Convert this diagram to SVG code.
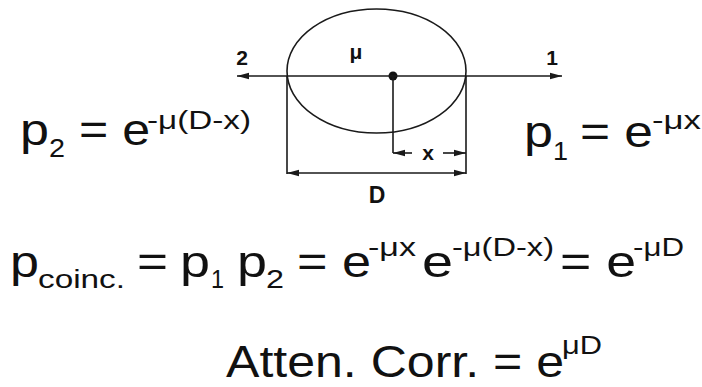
<svg xmlns="http://www.w3.org/2000/svg" width="702" height="387" viewBox="0 0 702 387">
<style>
.m{font-family:"Liberation Sans",Arial,sans-serif;font-size:44px;fill:#111}
.s{font-family:"Liberation Sans",Arial,sans-serif;font-size:25px;fill:#111}
.l{font-family:"Liberation Sans",Arial,sans-serif;font-size:21px;font-weight:bold;fill:#111;text-anchor:middle}
.ln{stroke:#1a1a1a;stroke-width:1.6;fill:none}
</style>
<defs>
<marker id="ah" viewBox="0 0 12 8" refX="12" refY="4" markerWidth="12" markerHeight="8" markerUnits="userSpaceOnUse" orient="auto-start-reverse">
<path d="M0,0.8 L12,4 L0,7.2 Z" fill="#1a1a1a"/>
</marker>
</defs>
<rect width="702" height="387" fill="#fff"/>
<g id="object">
<ellipse class="ln" cx="376.5" cy="71" rx="89.5" ry="62"/>
<circle cx="393" cy="76" r="4.5" fill="#111"/>
</g>
<g id="connectors">
<line class="ln" x1="237" y1="76" x2="562" y2="76" marker-start="url(#ah)" marker-end="url(#ah)"/>
<line class="ln" x1="287" y1="76" x2="287" y2="174"/>
<line class="ln" x1="466" y1="76" x2="466" y2="174"/>
<line class="ln" x1="393" y1="76" x2="393" y2="153"/>
<line class="ln" x1="412" y1="153" x2="393" y2="153" marker-end="url(#ah)"/>
<line class="ln" x1="443" y1="153" x2="466" y2="153" marker-end="url(#ah)"/>
<line class="ln" x1="287" y1="173" x2="466" y2="173" marker-start="url(#ah)" marker-end="url(#ah)"/>
</g>
<g id="labels">
<text class="l" x="242" y="65">2</text>
<text class="l" x="552" y="65">1</text>
<text class="l" x="356" y="59">μ</text>
<text class="l" x="428" y="160">x</text>
<text class="l" x="377" y="203" style="font-size:23px">D</text>
</g>
<g id="eq-p2">
<text class="m" x="20" y="145" textLength="29" lengthAdjust="spacingAndGlyphs">p</text>
<text class="s" x="49" y="157" textLength="16" lengthAdjust="spacingAndGlyphs">2</text>
<text class="m" x="79" y="145" textLength="71" lengthAdjust="spacingAndGlyphs">= e</text>
<text class="s" x="147" y="129" textLength="104" lengthAdjust="spacingAndGlyphs">-μ(D-x)</text>
</g>
<g id="eq-p1">
<text class="m" x="524" y="147" textLength="29" lengthAdjust="spacingAndGlyphs">p</text>
<text class="s" x="553" y="160" textLength="15" lengthAdjust="spacingAndGlyphs">1</text>
<text class="m" x="580" y="147" textLength="73" lengthAdjust="spacingAndGlyphs">= e</text>
<text class="s" x="652" y="129" textLength="49" lengthAdjust="spacingAndGlyphs">-μx</text>
</g>
<g id="eq-coinc">
<text class="m" x="10" y="277" textLength="29" lengthAdjust="spacingAndGlyphs">p</text>
<text class="s" x="38" y="288" textLength="87" lengthAdjust="spacingAndGlyphs">coinc.</text>
<text class="m" x="137" y="277" textLength="31" lengthAdjust="spacingAndGlyphs">=</text>
<text class="m" x="180" y="277" textLength="30" lengthAdjust="spacingAndGlyphs">p</text>
<text class="s" x="211" y="288" textLength="13" lengthAdjust="spacingAndGlyphs">1</text>
<text class="m" x="237" y="277" textLength="30" lengthAdjust="spacingAndGlyphs">p</text>
<text class="s" x="266" y="288" textLength="18" lengthAdjust="spacingAndGlyphs">2</text>
<text class="m" x="297" y="277" textLength="74" lengthAdjust="spacingAndGlyphs">= e</text>
<text class="s" x="368" y="256" textLength="48" lengthAdjust="spacingAndGlyphs">-μx</text>
<text class="m" x="422" y="277" textLength="31" lengthAdjust="spacingAndGlyphs">e</text>
<text class="s" x="452" y="256" textLength="102" lengthAdjust="spacingAndGlyphs">-μ(D-x)</text>
<text class="m" x="560" y="277" textLength="76" lengthAdjust="spacingAndGlyphs">= e</text>
<text class="s" x="633" y="256" textLength="51" lengthAdjust="spacingAndGlyphs">-μD</text>
</g>
<g id="eq-atten">
<text class="m" x="226" y="377" textLength="338" lengthAdjust="spacingAndGlyphs">Atten. Corr. = e</text>
<text class="s" x="562" y="354" textLength="40" lengthAdjust="spacingAndGlyphs">μD</text>
</g>
</svg>
